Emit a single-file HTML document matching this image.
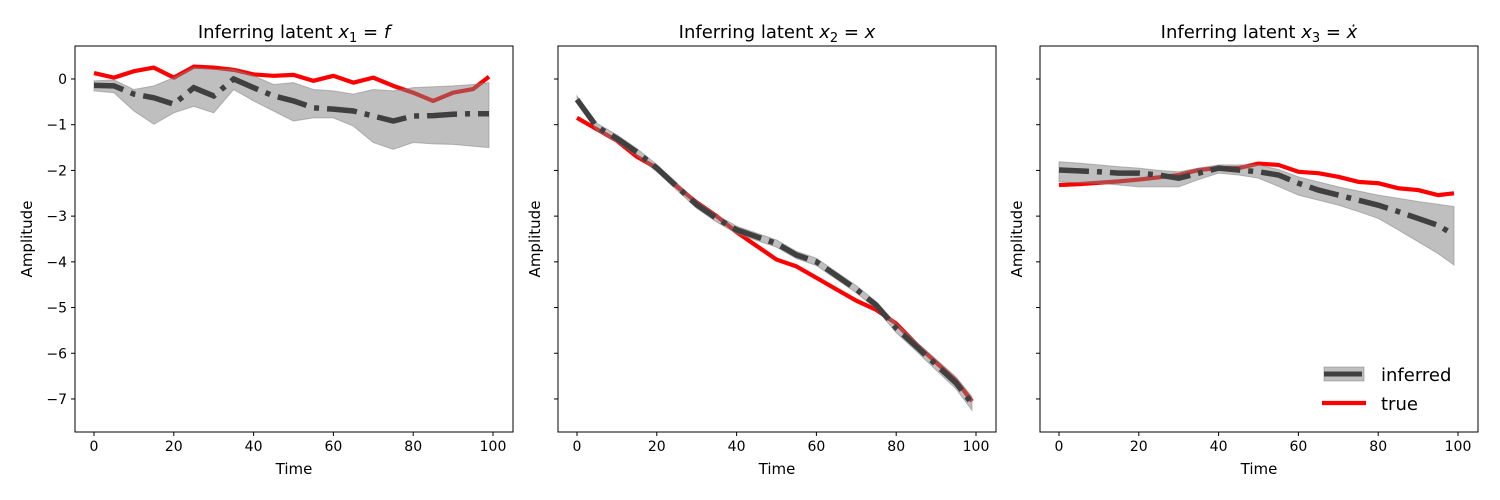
<!DOCTYPE html>
<html><head><meta charset="utf-8"><style>
body{margin:0;background:#fff}
svg{display:block;font-family:"DejaVu Sans","Liberation Sans",sans-serif}
</style></head><body>
<svg id="chart" width="1500" height="500" viewBox="0 0 1500 500" xmlns="http://www.w3.org/2000/svg"></svg>
<script>
const times=[0,5,10,15,20,25,30,35,40,45,50,55,60,65,70,75,80,85,90,95,99];
const xTicks=[0,20,40,60,80,100];
const yTicks=[0,-1,-2,-3,-4,-5,-6,-7];
const p1True=[0.13,0.03,0.17,0.25,0.03,0.27,0.25,0.2,0.1,0.07,0.09,-0.04,0.07,-0.08,0.03,-0.15,-0.3,-0.48,-0.3,-0.22,0.05];
const p1Mean=[-0.14,-0.15,-0.33,-0.41,-0.55,-0.19,-0.37,0,-0.19,-0.37,-0.48,-0.63,-0.66,-0.7,-0.81,-0.92,-0.81,-0.8,-0.77,-0.76,-0.76];
const p1Upper=[-0.04,-0.02,-0.23,-0.15,0.03,0.25,0.21,0.21,0.07,-0.12,-0.08,-0.23,-0.26,-0.33,-0.23,-0.26,-0.19,-0.17,-0.15,-0.12,-0.08];
const p1Lower=[-0.26,-0.3,-0.7,-0.99,-0.74,-0.6,-0.74,-0.23,-0.48,-0.7,-0.92,-0.85,-0.85,-1.03,-1.39,-1.54,-1.39,-1.42,-1.43,-1.47,-1.5];
const p2True=[-0.85,-1.1,-1.35,-1.7,-1.95,-2.35,-2.7,-3.0,-3.35,-3.65,-3.95,-4.1,-4.35,-4.6,-4.85,-5.05,-5.35,-5.8,-6.2,-6.6,-7.05];
const p2Mean=[-0.45,-1.05,-1.3,-1.6,-1.95,-2.35,-2.75,-3.05,-3.3,-3.45,-3.6,-3.85,-4.0,-4.3,-4.6,-4.95,-5.45,-5.85,-6.25,-6.65,-7.1];
const p2Upper=[-0.37,-0.97,-1.22,-1.52,-1.87,-2.27,-2.67,-2.97,-3.22,-3.37,-3.52,-3.77,-3.92,-4.22,-4.52,-4.87,-5.35,-5.75,-6.13,-6.52,-6.95];
const p2Lower=[-0.53,-1.13,-1.38,-1.68,-2.03,-2.43,-2.83,-3.13,-3.38,-3.53,-3.68,-3.93,-4.08,-4.38,-4.68,-5.03,-5.55,-5.95,-6.37,-6.78,-7.25];
const p3True=[-2.32,-2.3,-2.27,-2.24,-2.2,-2.15,-2.1,-1.99,-1.95,-1.95,-1.85,-1.88,-2.03,-2.06,-2.14,-2.25,-2.28,-2.39,-2.43,-2.54,-2.5];
const p3Mean=[-1.99,-2.01,-2.03,-2.06,-2.06,-2.1,-2.17,-2.06,-1.95,-1.99,-2.03,-2.1,-2.28,-2.43,-2.54,-2.65,-2.76,-2.9,-3.05,-3.2,-3.41];
const p3Upper=[-1.81,-1.84,-1.88,-1.92,-1.95,-2.0,-2.03,-1.95,-1.88,-1.88,-1.88,-1.98,-2.14,-2.25,-2.36,-2.45,-2.54,-2.61,-2.68,-2.74,-2.79];
const p3Lower=[-2.25,-2.27,-2.28,-2.32,-2.36,-2.36,-2.36,-2.2,-2.06,-2.1,-2.17,-2.35,-2.54,-2.65,-2.76,-2.9,-3.05,-3.3,-3.56,-3.82,-4.07];

const NS='http://www.w3.org/2000/svg';
const svg=document.getElementById('chart');
function mk(tag,attrs,parent,text){const e=document.createElementNS(NS,tag);for(const k in attrs)e.setAttribute(k,attrs[k]);if(text!==undefined)e.textContent=text;(parent||svg).appendChild(e);return e;}
const panels=[
 {left:75,tx:'1',rhs:'f',tru:p1True,mean:p1Mean,up:p1Upper,lo:p1Lower,labels:true},
 {left:558,tx:'2',rhs:'x',tru:p2True,mean:p2Mean,up:p2Upper,lo:p2Lower,labels:false},
 {left:1040,tx:'3',rhs:'x\u0307',tru:p3True,mean:p3Mean,up:p3Upper,lo:p3Lower,labels:false}];
const topY=46,bottomY=432,W=438;
panels.forEach((p,i)=>{
 const g=mk('g',{});
 
 
 const X=t=>p.left+19+t*3.99;
 const Y=v=>79-v*45.71;
 const tl=mk('polyline',{points:times.map((t,k)=>X(t)+','+Y(p.tru[k])).join(' '),fill:'none',stroke:'#ff0000','stroke-width':4.2,'stroke-linejoin':'round'},g);
 
 
 const pts=times.map((t,k)=>X(t)+','+Y(p.up[k])).concat(times.slice().reverse().map((t,k)=>X(t)+','+Y(p.lo[times.length-1-k])));
 const band=mk('polygon',{points:pts.join(' '),fill:'#808080','fill-opacity':0.5,stroke:'#808080','stroke-opacity':0.5},g);
 
 
 const ml=mk('polyline',{points:times.map((t,k)=>X(t)+','+Y(p.mean[k])).join(' '),fill:'none',stroke:'#404040','stroke-width':5.5,'stroke-dasharray':'30,8,5,8'},g);
 
 
 mk('rect',{x:p.left,y:topY,width:W,height:bottomY-topY,fill:'none',stroke:'#000','stroke-width':1},g);
 xTicks.forEach(t=>{
  mk('line',{x1:X(t),x2:X(t),y1:bottomY,y2:bottomY+4,stroke:'#000'},g);
  const l=mk('text',{x:X(t),y:bottomY+19,'text-anchor':'middle','font-size':14},g,String(t));
  
  
 });
 yTicks.forEach(v=>{
  mk('line',{x1:p.left-4,x2:p.left,y1:Y(v),y2:Y(v),stroke:'#000'},g);
  if(p.labels){const l=mk('text',{x:p.left-8,y:Y(v)+5,'text-anchor':'end','font-size':14},g,v<0?'\u2212'+(-v):String(v));
  
  }
 });
 const xl=mk('text',{x:p.left+W/2,y:474,'text-anchor':'middle','font-size':15},g,'Time');
 
 
 const yl=mk('text',{x:0,y:0,'text-anchor':'middle','font-size':15,transform:`translate(${p.left-(p.labels?43:18)},${(topY+bottomY)/2}) rotate(-90)`},g,'Amplitude');
 
 
 const ti=mk('text',{x:p.left+W/2,y:38,'text-anchor':'middle','font-size':18},g);
 
 
 ti.innerHTML=`Inferring latent <tspan font-style="italic">x</tspan><tspan font-size="13" dy="4">${p.tx}</tspan><tspan dy="-4"> = </tspan><tspan font-style="italic">${p.rhs}</tspan>`;
});
const lg=mk('g',{});


mk('rect',{x:1324,y:367,width:40,height:14,fill:'#808080','fill-opacity':0.5,stroke:'#808080','stroke-opacity':0.5},lg);
mk('line',{x1:1324,x2:1362,y1:374,y2:374,stroke:'#404040','stroke-width':5},lg);
const t1=mk('text',{x:1381,y:381,'font-size':18},lg,'inferred');


mk('line',{x1:1322,x2:1366,y1:403,y2:403,stroke:'#ff0000','stroke-width':4.2},lg);
const t2=mk('text',{x:1381,y:410,'font-size':18},lg,'true');


</script>
</body></html>
